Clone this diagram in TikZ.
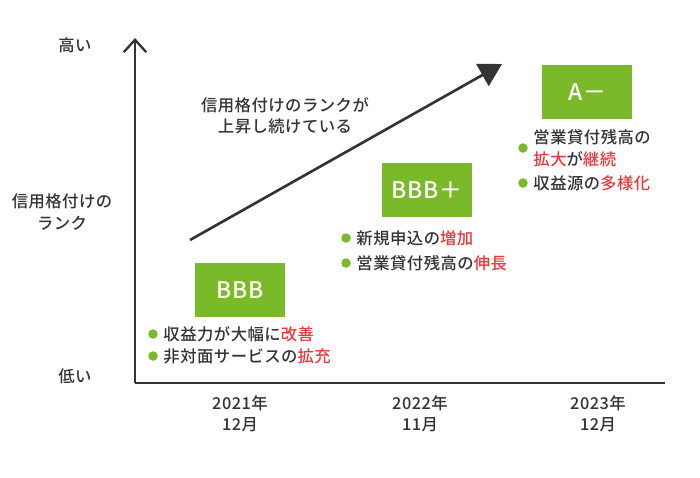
\documentclass[tikz,border=0pt]{standalone}
\usepackage{fontspec}
\setmainfont{Noto Sans CJK JP Medium}[LetterSpace=3]
\usetikzlibrary{arrows.meta,positioning}
\definecolor{lgreen}{HTML}{7AB929}
\definecolor{hired}{HTML}{E8383D}
\definecolor{axisgray}{HTML}{333333}
\newcommand{\hl}[1]{\textcolor{hired}{#1}}
\begin{document}
\begin{tikzpicture}[x=0.02cm,y=-0.02cm,
    lbl/.style={font=\fontsize{9.3pt}{12pt}\selectfont, text=axisgray, align=center},
    rank/.style={rectangle, fill=lgreen, minimum width=1.8cm, minimum height=1.1cm, text=white, font=\fontsize{13pt}{15pt}\selectfont},
    dot/.style={circle, fill=lgreen, inner sep=0pt, minimum size=0.19cm},
    item/.style={anchor=west, inner sep=0pt, font=\fontsize{9.3pt}{12.5pt}\selectfont, text=axisgray}
]
    \useasboundingbox (0,0) rectangle (700,477);
    % axes
    \coordinate (origin) at (135,383);
    \coordinate (ytop) at (135,38);
    \coordinate (xend) at (665,383);
    \draw[axisgray, line width=1.3pt, -{Straight Barb[length=2.5mm,width=4.5mm]}] (origin) -- (ytop);
    \draw[axisgray, line width=1.3pt] (origin) -- (xend);

    \node[lbl] (high) at (75,45) {高い};
    \node[lbl] (mid) at (62,212) {信用格付けの\\ランク};
    \node[lbl] (low) at (75,376) {低い};
    \node[lbl] (y1) at (240,414) {2021年\\12月};
    \node[lbl] (y2) at (420,414) {2022年\\11月};
    \node[lbl] (y3) at (598,414) {2023年\\12月};

    % trend
    \coordinate (tstart) at (190,240);
    \coordinate (tend) at (502,64);
    \draw[axisgray, line width=1.5pt, -{Triangle[length=4.5mm,width=5mm]}] (tstart) -- (tend);
    \node[lbl] (trend) at (285,116) {信用格付けのランクが\\上昇し続けている};

    % ratings
    \node[rank] (bbb) at (240,290) {BBB};
    \node[rank] (bbbp) at (427,190) {BBB＋};
    \node[rank] (aminus) at (587,92) {A－};

    \node[dot] (d1) at (153,334) {};
    \node[item, right=0.1cm of d1] (i1) {収益力が大幅に\hl{改善}};
    \node[dot] (d2) at (153,356) {};
    \node[item, right=0.1cm of d2] (i2) {非対面サービスの\hl{拡充}};

    \node[dot] (d3) at (346,238) {};
    \node[item, right=0.1cm of d3] (i3) {新規申込の\hl{増加}};
    \node[dot] (d4) at (346,263) {};
    \node[item, right=0.1cm of d4] (i4) {営業貸付残高の\hl{伸長}};

    \node[dot] (d5) at (523,148) {};
    \node[item, right=0.1cm of d5, align=left] (i5) {営業貸付残高の\\\hl{拡大}が\hl{継続}};
    \node[dot] (d6) at (523,183) {};
    \node[item, right=0.1cm of d6] (i6) {収益源の\hl{多様化}};
\end{tikzpicture}
\end{document}
